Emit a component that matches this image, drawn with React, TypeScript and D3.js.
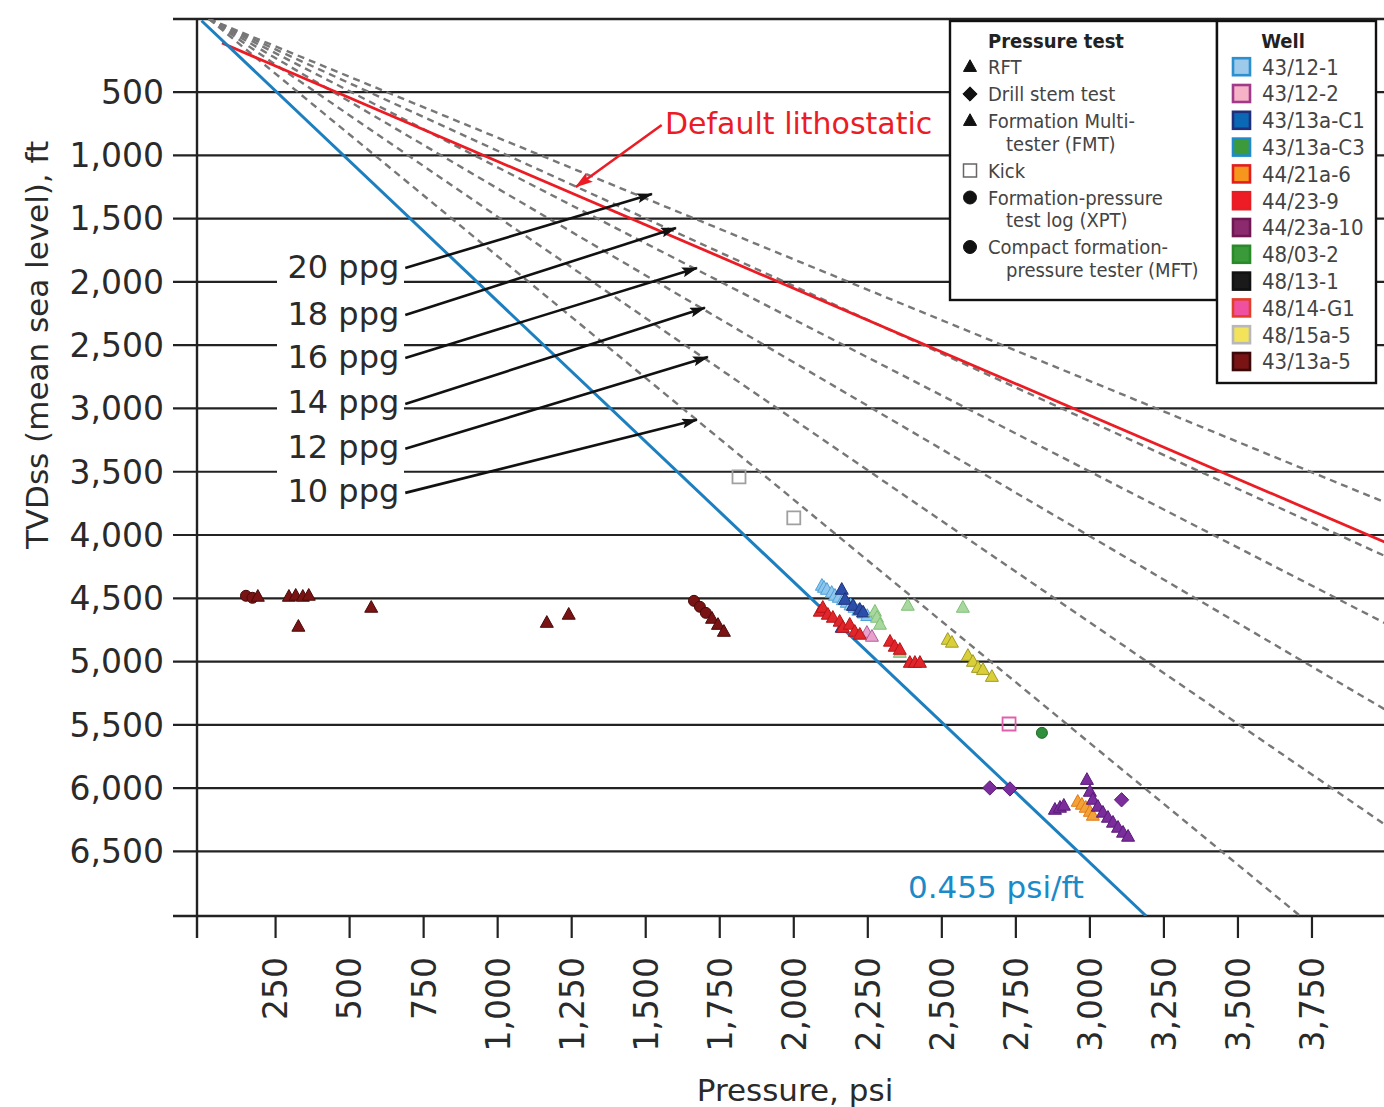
import React from "react";
import * as d3 from "d3";

type Pt = [number, number, string]; // pressure (psi), depth (ft), test: T=RFT/FMT, D=DST, K=kick, C=XPT/MFT

// ---------- axes ----------
const depthTicks = [500, 1000, 1500, 2000, 2500, 3000, 3500, 4000, 4500, 5000, 5500, 6000, 6500];
const pressureTicks = [250, 500, 750, 1000, 1250, 1500, 1750, 2000, 2250, 2500, 2750, 3000, 3250, 3500, 3750];
const pressureDomain = [-12, 4000];
const depthDomain = [-77, 7010];

// ---------- reference gradients ----------
const mudWeightsPpg = [20, 18, 16, 14, 12, 10];
const mudOrigin: [number, number] = [25, -77];
const hydrostaticLine: [number, number][] = [[0, -63], [3190, 7010]];
const lithostaticLine: [number, number][] = [[69, 113], [4000, 4060]];

// annotation arrows: label, from (psi, ft) -> to (psi, ft)
const ppgLabels = ["20 ppg", "18 ppg", "16 ppg", "14 ppg", "12 ppg", "10 ppg"];
const ppgArrowFrom: [number, number][] = [[688, 1890], [688, 2261], [688, 2601], [688, 2964], [688, 3319], [688, 3667]];
const ppgArrowTo: [number, number][] = [[1521, 1305], [1602, 1574], [1673, 1890], [1700, 2205], [1710, 2593], [1673, 3090]];
const lithoArrow: [number, number][] = [[1554, 760], [1264, 1250]];

// ---------- well data ----------
const well_43_12_1: Pt[] = [
  [2095, 4401, "T"], [2102, 4417, "T"], [2112, 4433, "T"], [2128, 4457, "T"], [2139, 4480, "T"],
  [2152, 4496, "T"], [2166, 4515, "T"], [2179, 4536, "T"], [2192, 4556, "T"], [2205, 4575, "T"],
  [2218, 4598, "T"], [2236, 4620, "T"], [2248, 4640, "T"],
];
const well_43_12_2: Pt[] = [[2247, 4773, "T"], [2264, 4804, "T"], [2727, 5493, "K"]];
const well_43_13a_C1: Pt[] = [[2162, 4433, "T"], [2173, 4512, "T"], [2200, 4560, "T"], [2223, 4591, "T"], [2234, 4612, "T"], [2162, 4733, "T"]];
const well_43_13a_C3: Pt[] = [[2274, 4606, "T"], [2281, 4654, "T"], [2291, 4709, "T"], [2358, 4931, "T"], [2385, 4559, "T"], [2571, 4575, "T"]];
const well_44_21a_6: Pt[] = [[2959, 6108, "T"], [2973, 6131, "T"], [2986, 6155, "T"], [3000, 6187, "T"], [3010, 6218, "T"]];
const well_44_23_9: Pt[] = [
  [2088, 4606, "T"], [2098, 4575, "T"], [2115, 4630, "T"], [2132, 4654, "T"], [2155, 4685, "T"],
  [2166, 4733, "T"], [2189, 4709, "T"], [2206, 4765, "T"], [2223, 4788, "T"], [2325, 4843, "T"],
  [2341, 4883, "T"], [2358, 4907, "T"], [2392, 5010, "T"], [2409, 5010, "T"], [2426, 5010, "T"],
];
const well_44_23a_10: Pt[] = [
  [2662, 5998, "D"], [2730, 6006, "D"], [3107, 6092, "D"],
  [2882, 6171, "T"], [2899, 6155, "T"], [2912, 6139, "T"], [2990, 5935, "T"], [3000, 6029, "T"],
  [3010, 6092, "T"], [3027, 6147, "T"], [3044, 6194, "T"], [3061, 6234, "T"], [3078, 6273, "T"],
  [3095, 6313, "T"], [3112, 6352, "T"], [3129, 6384, "T"],
];
const well_48_03_2: Pt[] = [[2838, 5563, "C"]];
const well_48_13_1: Pt[] = [];
const well_48_14_G1: Pt[] = [];
const well_48_15a_5: Pt[] = [
  [2520, 4828, "T"], [2534, 4851, "T"], [2588, 4955, "T"], [2605, 5002, "T"], [2622, 5050, "T"],
  [2639, 5066, "T"], [2669, 5121, "T"], [1815, 3540, "K"], [2000, 3864, "K"],
];
const well_43_13a_5: Pt[] = [
  [150, 4480, "C"], [172, 4496, "C"], [1663, 4520, "C"], [1683, 4567, "C"], [1703, 4615, "C"],
  [190, 4488, "T"], [295, 4488, "T"], [318, 4480, "T"], [342, 4488, "T"], [362, 4480, "T"],
  [327, 4725, "T"], [573, 4575, "T"], [1166, 4694, "T"], [1240, 4630, "T"], [1724, 4662, "T"],
  [1744, 4710, "T"], [1764, 4765, "T"],
];

const wellNames = ["43/12-1", "43/12-2", "43/13a-C1", "43/13a-C3", "44/21a-6", "44/23-9", "44/23a-10", "48/03-2", "48/13-1", "48/14-G1", "48/15a-5", "43/13a-5"];
const wellData = [well_43_12_1, well_43_12_2, well_43_13a_C1, well_43_13a_C3, well_44_21a_6, well_44_23_9, well_44_23a_10, well_48_03_2, well_48_13_1, well_48_14_G1, well_48_15a_5, well_43_13a_5];

// legend swatch styles
const legendFill = ["#9dc9ea", "#f6b3c7", "#0b68b5", "#3d9a3a", "#f7961d", "#ee1c25", "#8c2a6e", "#3a9a3a", "#1a1a1a", "#f050a0", "#f2e35a", "#7a1414"];
const legendStroke = ["#2b8fd0", "#a03a8a", "#1f2f7a", "#1f8ad0", "#e02020", "#e41e24", "#6d1850", "#2a8a2a", "#111", "#e0402a", "#b8b8b8", "#3a0a0a"];
// marker styles on the plot
const pointFill = ["#8fc6ec", "#e9a0cc", "#2b4fa8", "#a8d89e", "#f3a23a", "#e0262a", "#7a2d9b", "#2f8f3a", "#1a1a1a", "#f050a0", "#d9cf3a", "#7a1414"];
const pointStroke = ["#4aa0d8", "#b0609a", "#1f2f7a", "#7fbf76", "#e07a10", "#b81418", "#5a1a78", "#1f6a26", "#000", "#c0306a", "#a09a20", "#4a0a0a"];
const kickStroke = ["#999", "#e060b0", "#999", "#999", "#999", "#999", "#999", "#999", "#999", "#999", "#a0a0a0", "#999"];

const pressureTestLegend = [
  { shape: "T", lines: ["RFT"] },
  { shape: "D", lines: ["Drill stem test"] },
  { shape: "T", lines: ["Formation Multi-", "tester (FMT)"] },
  { shape: "K", lines: ["Kick"] },
  { shape: "C", lines: ["Formation-pressure", "test log (XPT)"] },
  { shape: "C", lines: ["Compact formation-", "pressure tester (MFT)"] },
];

const FONT = "'DejaVu Sans', sans-serif";
const COND = "'DejaVu Sans Condensed', 'Liberation Sans Narrow', 'DejaVu Sans', sans-serif";

function markerPath(shape: string, s: number): string {
  if (shape === "T") {
    const h = s * 0.9;
    return `M0,${-h * 0.62}L${s / 2},${h * 0.38}L${-s / 2},${h * 0.38}Z`;
  }
  if (shape === "D") {
    const r = s * 0.55;
    return `M0,${-r}L${r},0L0,${r}L${-r},0Z`;
  }
  if (shape === "K") {
    const r = s / 2;
    return `M${-r},${-r}H${r}V${r}H${-r}Z`;
  }
  return d3.symbol().type(d3.symbolCircle).size((Math.PI * s * s) / 4)()!;
}

export default function App() {
  const left = 198, right = 1386, top = 19, bottom = 916;
  const x = d3.scaleLinear().domain(pressureDomain).range([left, right]);
  const y = d3.scaleLinear().domain(depthDomain).range([top, bottom]);
  const fmt = d3.format(",");
  const line = d3.line<[number, number]>().x((d) => x(d[0])).y((d) => y(d[1]));

  const mudLines = mudWeightsPpg.map((ppg) => {
    const g = 0.052 * ppg;
    const dEnd = depthDomain[1];
    return [mudOrigin, [mudOrigin[0] + g * (dEnd - mudOrigin[1]), dEnd]] as [number, number][];
  });

  return (
    <svg width={1384} height={1107} style={{ position: "absolute", left: 0, top: 0, background: "#fff" }}>
      <defs>
        <clipPath id="plot">
          <rect x={left} y={top} width={1384 - left} height={bottom - top} />
        </clipPath>
        <marker id="ahBlack" viewBox="0 0 16 10" refX="15" refY="5" markerWidth="16" markerHeight="10" markerUnits="userSpaceOnUse" orient="auto">
          <path d="M0,0L16,5L0,10L3,5Z" fill="#111" />
        </marker>
        <marker id="ahRed" viewBox="0 0 16 10" refX="15" refY="5" markerWidth="18" markerHeight="12" markerUnits="userSpaceOnUse" orient="auto">
          <path d="M0,0L16,5L0,10L3,5Z" fill="#ec1c24" />
        </marker>
      </defs>

      {/* gridlines and frame */}
      <g stroke="#222" strokeWidth={2.2}>
        {depthTicks.map((t) => (
          <line key={t} x1={173} x2={1384} y1={y(t)} y2={y(t)} />
        ))}
        <line x1={173} x2={1384} y1={top} y2={top} strokeWidth={2.6} />
        <line x1={173} x2={1384} y1={bottom} y2={bottom} strokeWidth={2.6} />
        <line x1={left - 1} x2={left - 1} y1={top} y2={bottom + 22} strokeWidth={2.4} />
        {pressureTicks.map((t) => (
          <line key={t} x1={x(t)} x2={x(t)} y1={bottom} y2={bottom + 22} />
        ))}
      </g>

      {/* y tick labels */}
      <g fontFamily={FONT} fontSize={33} fill="#2a2a2a" textAnchor="end">
        {depthTicks.map((t) => (
          <text key={t} x={164} y={y(t)} dy="0.36em">{fmt(t)}</text>
        ))}
      </g>
      {/* x tick labels */}
      <g fontFamily={FONT} fontSize={33} fill="#2a2a2a" textAnchor="end">
        {pressureTicks.map((t) => (
          <text key={t} transform={`translate(${x(t)},${bottom + 41}) rotate(-90)`} dy="0.36em">{fmt(t)}</text>
        ))}
      </g>
      <text x={795} y={1101} fontFamily={FONT} fontSize={31} fill="#2a2a2a" textAnchor="middle">Pressure, psi</text>
      <text transform="translate(48,345) rotate(-90)" fontFamily={FONT} fontSize={31} fill="#2a2a2a" textAnchor="middle">TVDss (mean sea level), ft</text>

      {/* reference lines */}
      <g clipPath="url(#plot)" fill="none">
        {mudLines.map((l, i) => (
          <path key={i} d={line(l)!} stroke="#777" strokeWidth={2.4} strokeDasharray="7,5" />
        ))}
        <path d={line(lithostaticLine)!} stroke="#ec1c24" strokeWidth={2.8} />
        <path d={line(hydrostaticLine)!} stroke="#1b7fc0" strokeWidth={3} />
      </g>

      {/* data points */}
      <g clipPath="url(#plot)">
        {wellData.map((pts, wi) =>
          pts.map((p, j) => (
            <path
              key={`${wi}-${j}`}
              d={markerPath(p[2], p[2] === "K" ? 13 : p[2] === "C" ? 11 : 13)}
              transform={`translate(${x(p[0])},${y(p[1])})`}
              fill={p[2] === "K" ? "none" : pointFill[wi]}
              stroke={p[2] === "K" ? kickStroke[wi] : pointStroke[wi]}
              strokeWidth={p[2] === "K" ? 1.8 : 1}
            />
          ))
        )}
      </g>

      {/* ppg annotation */}
      <rect x={277} y={246} width={127} height={266} fill="#fff" />
      <g fontFamily={FONT} fontSize={32} fill="#2a2a2a" textAnchor="end">
        {ppgLabels.map((lab, i) => (
          <text key={lab} x={x(ppgArrowFrom[i][0]) - 6} y={y(ppgArrowFrom[i][1])} dy="0.3em">{lab}</text>
        ))}
      </g>
      <g stroke="#111" strokeWidth={2.6}>
        {ppgArrowFrom.map((f, i) => (
          <line key={i} x1={x(f[0])} y1={y(f[1])} x2={x(ppgArrowTo[i][0])} y2={y(ppgArrowTo[i][1])} markerEnd="url(#ahBlack)" />
        ))}
      </g>
      <line x1={x(lithoArrow[0][0])} y1={y(lithoArrow[0][1])} x2={x(lithoArrow[1][0])} y2={y(lithoArrow[1][1])} stroke="#ec1c24" strokeWidth={2.6} markerEnd="url(#ahRed)" />
      <text x={665} y={134} fontFamily={FONT} fontSize={30} fill="#ec1c24">Default lithostatic</text>
      <text x={908} y={898} fontFamily={FONT} fontSize={31} fill="#1b8ac8">0.455 psi/ft</text>

      {/* pressure test legend */}
      <g>
        <rect x={950} y={21} width={267} height={279} fill="#fff" stroke="#111" strokeWidth={2.4} />
        <text x={988} y={48} fontFamily={COND} fontWeight="bold" fontSize={20} fill="#222">Pressure test</text>
        {(() => {
          const rows: JSX.Element[] = [];
          let yy = 67;
          pressureTestLegend.forEach((it, i) => {
            rows.push(
              <path key={`m${i}`} d={markerPath(it.shape, 13)} transform={`translate(970,${yy})`}
                fill={it.shape === "K" ? "#fff" : "#111"} stroke={it.shape === "K" ? "#666" : "#111"} strokeWidth={it.shape === "K" ? 1.5 : 1} />
            );
            it.lines.forEach((ln, k) => {
              rows.push(
                <text key={`t${i}-${k}`} x={k === 0 ? 988 : 1006} y={yy + k * 22.5} dy="0.35em" fontFamily={COND} fontSize={20} fill="#444">{ln}</text>
              );
            });
            yy += it.lines.length === 1 ? 27 : 49.5;
          });
          return rows;
        })()}
      </g>

      {/* well legend */}
      <g>
        <rect x={1217} y={21} width={159} height={362} fill="#fff" stroke="#111" strokeWidth={2.4} />
        <text x={1283} y={48} fontFamily={COND} fontWeight="bold" fontSize={20} fill="#222" textAnchor="middle">Well</text>
        {wellNames.map((nm, i) => {
          const yy = 66.7 + i * 26.8;
          return (
            <g key={nm}>
              <rect x={1233} y={yy - 8.5} width={17} height={17} fill={legendFill[i]} stroke={legendStroke[i]} strokeWidth={2.6} />
              <text x={1262} y={yy} dy="0.36em" fontFamily={COND} fontSize={22} fill="#444">{nm}</text>
            </g>
          );
        })}
      </g>
    </svg>
  );
}
